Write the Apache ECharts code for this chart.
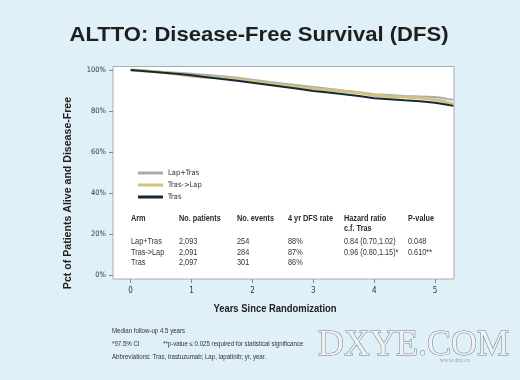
<!DOCTYPE html>
<html><head><meta charset="utf-8">
<script src="https://cdn.jsdelivr.net/npm/echarts@6/dist/echarts.min.js"></script>
<style>html,body{margin:0;padding:0;background:#dff0f8}#c{width:520px;height:380px}</style>
</head><body><div id="c"></div>
<script>
// ---- data ----
var seriesNames = ['Lap+Tras', 'Tras->Lap', 'Tras'];
var years = [0, 0.25, 0.5, 0.75, 1.0, 1.25, 1.5, 1.75, 2.0, 2.25, 2.5, 2.75, 3.0, 3.25, 3.5, 3.75, 4.0, 4.25, 4.5, 4.75, 5.0, 5.1, 5.2, 5.3];
var lapTras = [100, 99.6, 99.1, 98.7, 98.2, 97.6, 97.0, 96.2, 95.2, 94.3, 93.4, 92.6, 91.7, 90.9, 90.0, 89.2, 88.2, 87.8, 87.3, 87.1, 86.8, 86.5, 85.8, 85.5];
var trasLap = [100, 99.5, 98.9, 98.0, 97.0, 96.5, 96.2, 95.4, 94.5, 93.5, 92.5, 91.7, 90.8, 90.2, 89.5, 88.9, 87.5, 87.1, 86.8, 86.3, 85.5, 85.0, 84.2, 83.5];
var tras = [100, 99.4, 98.8, 98.2, 97.4, 96.5, 95.6, 94.8, 93.8, 92.8, 91.8, 90.9, 89.8, 89.0, 88.2, 87.3, 86.2, 85.7, 85.2, 84.8, 84.0, 83.5, 83.0, 82.5];
var xTicks = [0, 1, 2, 3, 4, 5];
var yTicks = [0, 20, 40, 60, 80, 100];
var tableHeaders = ['Arm', 'No. patients', 'No. events', '4 yr DFS rate', 'Hazard ratio\nc.f. Tras', 'P-value'];
var tableArms = ['Lap+Tras', 'Tras->Lap', 'Tras'];
var tablePatients = ['2,093', '2,091', '2,097'];
var tableEvents = ['254', '284', '301'];
var tableRates = ['88%', '87%', '86%'];
var tableHR = ['0.84 (0.70,1.02)', '0.96 (0.80,1.15)*', ''];
var tableP = ['0.048', '0.610**', ''];

var NARROW = "'Liberation Sans','Arial',sans-serif";
var COND = "'DejaVu Sans Condensed','Liberation Sans',sans-serif";
var colors = ['#a9abad', '#d2c27a', '#15283b'];
var widths = [2, 3, 2];
var allSeries = [lapTras, trasLap, tras];

function pair(vals){ return years.map(function(x,i){ return [x, vals[i]]; }); }
function txt(x, y, s, font, opts){
  opts = opts || {};
  return {type:'text', x:x, y:y, scaleX:opts.sx || 0.86, rotation:opts.rot || 0,
    style:{text:s, font:font, fill:opts.fill || '#2a2a2a', align:opts.align || 'left', verticalAlign:opts.va || 'middle', lineHeight:opts.lh}};
}

var graphics = [];
graphics.push(txt(259, 35, 'ALTTO: Disease-Free Survival (DFS)', "bold 21px "+NARROW, {sx:1.05, align:'center', fill:'#1e1e1e'}));
graphics.push({type:'text', x:68, y:193, rotation:Math.PI/2, scaleX:0.92,
  style:{text:'Pct of Patients Alive and Disease-Free', font:"bold 11.5px "+NARROW, fill:'#222', align:'center', verticalAlign:'middle'}});
graphics.push(txt(275, 309, 'Years Since Randomization', "bold 11.5px "+NARROW, {sx:0.82, align:'center', fill:'#222'}));
// table
var colX = [131, 179, 237, 288, 344, 408];
var rowY = [241.5, 252.5, 263];
tableHeaders.forEach(function(h,i){
  graphics.push(txt(colX[i], 214, h, "bold 8.5px "+NARROW, {va:'top', lh:10}));
});
var cols = [tableArms, tablePatients, tableEvents, tableRates, tableHR, tableP];
cols.forEach(function(col,ci){
  col.forEach(function(v,ri){
    graphics.push(txt(colX[ci], rowY[ri], v, "8.5px "+NARROW, {fill:'#333'}));
  });
});
// notes
graphics.push(txt(112, 331, 'Median follow-up 4.5 years', "6.8px "+NARROW, {fill:'#333', sx:0.9}));
graphics.push(txt(112, 344, '*97.5% CI', "6.8px "+NARROW, {fill:'#333', sx:0.9}));
graphics.push(txt(163, 344, '**p-value \u2264 0.025 required for statistical significance', "6.8px "+NARROW, {fill:'#333', sx:0.9}));
graphics.push(txt(112, 357, 'Abbreviations: Tras, trastuzumab; Lap, lapatinib; yr, year.', "6.8px "+NARROW, {fill:'#333', sx:0.9}));
// watermark
graphics.push({type:'text', x:318, y:346, style:{text:'DXYE.COM', font:"36px 'Liberation Serif','DejaVu Serif',serif", fill:'#eef2f4', stroke:'#6f7a80', lineWidth:1, verticalAlign:'middle'}});
graphics.push({type:'text', x:440, y:360, style:{text:'www.dxy.cn', font:"6px 'Liberation Serif',serif", fill:'#9aa4aa', verticalAlign:'middle'}});

var chart = echarts.init(document.getElementById('c'), null, {renderer:'canvas'});
chart.setOption({
  animation:false,
  backgroundColor:'#dff0f8',
  grid:{left:113, top:66.5, right:66, bottom:101, show:true, backgroundColor:'#ffffff', borderColor:'#a8acb0', borderWidth:1},
  xAxis:{type:'value', min:-0.29, max:5.31,
    axisLine:{show:false, onZero:false}, splitLine:{show:false},
    axisTick:{show:true, customValues:xTicks, length:4, lineStyle:{color:'#888'}},
    axisLabel:{customValues:xTicks, fontFamily:COND, fontSize:8, color:'#333', margin:8}},
  yAxis:{type:'value', min:-1.95, max:101.7,
    axisLine:{show:false, onZero:false}, splitLine:{show:false},
    axisTick:{show:true, customValues:yTicks, length:4, lineStyle:{color:'#888'}},
    axisLabel:{customValues:yTicks, formatter:'{value}%', fontFamily:COND, fontSize:7.5, color:'#333', margin:7}},
  legend:{orient:'vertical', left:133, top:163, itemWidth:25, itemHeight:3, itemGap:2, icon:'rect',
    textStyle:{fontFamily:COND, fontSize:7.5, color:'#333', lineHeight:10},
    data:seriesNames},
  series: seriesNames.map(function(n,i){
    return {name:n, type:'line', data:pair(allSeries[i]), showSymbol:false, symbol:'none',
      itemStyle:{color:colors[i]}, lineStyle:{color:colors[i], width:widths[i]}, z:2+i};
  }),
  graphic: graphics
});
</script></body></html>
